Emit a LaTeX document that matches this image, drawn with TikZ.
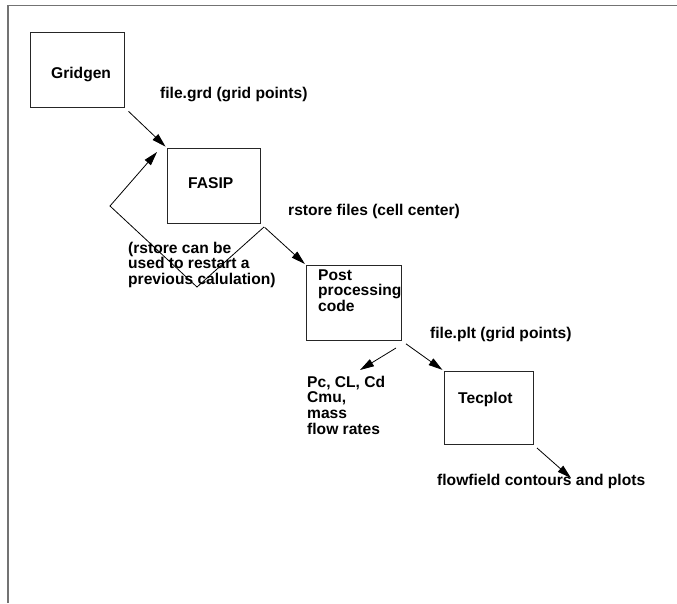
\documentclass[tikz,border=0pt]{standalone}
\usepackage{fontspec}
\setmainfont{Liberation Sans}
\usetikzlibrary{arrows.meta}
\begin{document}
\begin{tikzpicture}[x=1pt,y=-1pt,
  box/.style={draw=black!85, line width=0.9pt, inner sep=0pt, anchor=north west},
  lbl/.style={font=\fontsize{15.6}{15.8}\selectfont\bfseries, inner sep=0pt, align=left, anchor=base west},
  conn/.style={line width=0.8pt, -{Triangle[length=14pt,width=8pt]}},
  frameline/.style={draw=black!55, line width=1.4pt}]
\useasboundingbox (0,0) rectangle (677,603);
\draw[frameline] (8,603) -- (8,5.5) -- (677,5.5);
% boxes
\node[box, minimum width=94pt, minimum height=75pt] (gridgen) at (30,32) {};
\node[box, minimum width=93pt, minimum height=75pt] (fasip) at (167,148) {};
\node[box, minimum width=95pt, minimum height=75pt] (post) at (306,265) {};
\node[box, minimum width=89pt, minimum height=73pt] (tecplot) at (444,371) {};
% texts (multi-line: base = last line)
\node[lbl] (tgridgen) at (51,78) {Gridgen};
\node[lbl] (tfasip) at (188,188) {FASIP};
\node[lbl] (tpost) at (318,311.6) {Post\\processing\\code};
\node[lbl] (ttecplot) at (458,403) {Tecplot};
\node[lbl] (lgrd) at (160,98) {file.grd (grid points)};
\node[lbl] (lrstore) at (288,215) {rstore files (cell center)};
\node[lbl] (lnote) at (128,284.6) {(rstore can be\\used to restart a\\previous calulation)};
\node[lbl] (lplt) at (430,338) {file.plt (grid points)};
\node[lbl] (lout) at (307,434.4) {Pc, CL, Cd\\Cmu,\\mass\\flow rates};
\node[lbl] (lflow) at (437,485) {flowfield contours and plots};
% coordinates
\coordinate (fbA) at (264,227);
\coordinate (fbB) at (197,287);
\coordinate (fbC) at (110,206);
\coordinate (fbD) at (157,152);
\coordinate (outA) at (396,348);
\coordinate (outB) at (360,370);
\coordinate (ffA) at (537,448);
\coordinate (ffB) at (571,478);
% connectors
\draw[conn, shorten <=5pt, shorten >=2pt] (gridgen.south east) -- (fasip.north west);
\draw[conn, shorten <=5pt, shorten >=1.5pt] (fasip.south east) -- (post.north west);
\draw[conn] (fbA) -- (fbB) -- (fbC) -- (fbD);
\draw[conn] (outA) -- (outB);
\draw[conn, shorten <=5pt, shorten >=2pt] (post.south east) -- (tecplot.north west);
\draw[conn] (ffA) -- (ffB);
\end{tikzpicture}
\end{document}
